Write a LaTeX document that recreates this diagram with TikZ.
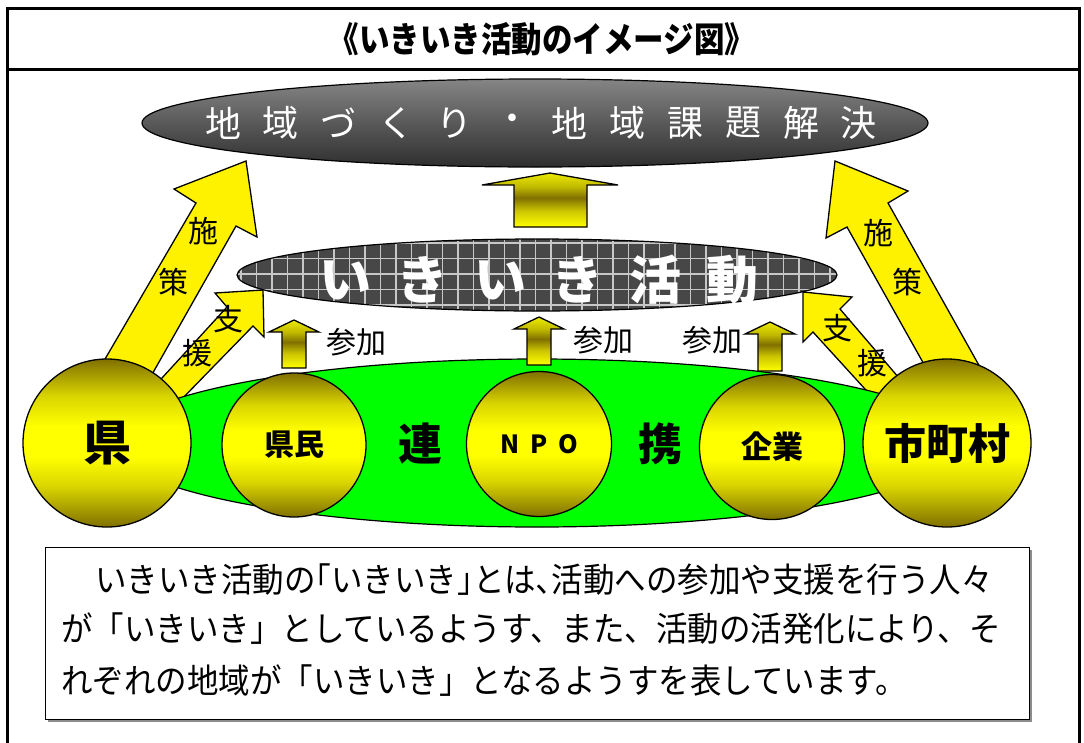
\documentclass[tikz,border=0pt]{standalone}
\usepackage{fontspec}
\setmainfont{Noto Sans CJK JP}
\usetikzlibrary{shapes.geometric}
\definecolor{olv}{RGB}{128,112,0}
\definecolor{grn}{RGB}{0,255,0}
\pgfdeclareverticalshading{ballsh}{100bp}{color(0bp)=(olv); color(25bp)=(olv); color(37bp)=(yellow!70!olv); color(46bp)=(yellow); color(55bp)=(yellow); color(64bp)=(yellow!70!olv); color(75bp)=(olv); color(100bp)=(olv)}
\pgfdeclareverticalshading{upsh}{100bp}{color(0bp)=(yellow); color(25bp)=(yellow); color(40bp)=(yellow!60!olv); color(52bp)=(olv); color(62bp)=(yellow!50!olv); color(75bp)=(yellow!85!olv); color(100bp)=(yellow!85!olv)}
\tikzset{
  frameline/.style={line width=3pt},
  bigarrow/.style={fill=yellow, draw=black, line width=1.3pt, line join=miter},
  upblock/.style={shade, shading=upsh, draw=black, line width=1.3pt, line join=miter},
  ballnode/.style={circle, draw=black, line width=1.3pt, shade, shading=ballsh, inner sep=0pt},
  lbl/.style={inner sep=0pt, font=\fontsize{30}{30}\selectfont},
  goaltxt/.style={inner sep=0pt, text=white, font=\fontsize{36}{36}\selectfont},
  actxt/.style={inner sep=0pt, text=white, font=\fontsize{52}{52}\selectfont\bfseries},
  bodytxt/.style={inner sep=0pt, anchor=west, font=\fontsize{31.5}{31.5}\selectfont},
  gridln/.style={white!78!black, line width=1.2pt}
}
\newcommand\uparr[3]{\path[upblock] (#1-12,#3) -- (#1-12,#2+12) -- (#1-25,#2+12) -- (#1,#2) -- (#1+25,#2+12) -- (#1+12,#2+12) -- (#1+12,#3) -- cycle;}
\begin{document}
\begin{tikzpicture}[x=1pt,y=-1pt]
\useasboundingbox (0,0) rectangle (1084,742);
\fill[white] (0,0) rectangle (1084,742);
% frame
\draw[frameline] (7.5,750) -- (7.5,8.5) -- (1079.5,8.5) -- (1079.5,750);
\draw[frameline] (7.5,69) -- (1079.5,69);
\node[inner sep=0pt] (title) at (542,39) {\scalebox{1}[1.15]{\fontsize{30.5}{30.5}\selectfont\bfseries 《いきいき活動のイメージ図》}};
% goal ellipse
\shadedraw[top color=black!48, bottom color=black!82, draw=black, line width=1.2pt] (535,123) ellipse [x radius=393pt, y radius=44pt];
\foreach \c [count=\i from 0] in {地,域,づ,く,り,・,地,域,課,題,解,決}
  \node[goaltxt] (g\i) at (223+57.8*\i,123) {\c};
% central up arrow
\path[upblock] (514,227) -- (514,185) -- (482,185) -- (550,173) -- (618,185) -- (587,185) -- (587,227) -- cycle;
% diagonal arrows
\path[bigarrow] (94,378) -- (196,203) -- (174,189) -- (246,161) -- (257,237) -- (236,226) -- (146,385) -- cycle;
\path[bigarrow] (151,390) -- (227,307) -- (215,293) -- (263,290) -- (264,337) -- (253,326) -- (178,403) -- cycle;
\path[bigarrow] (930,375) -- (847,227) -- (826,238) -- (835,161) -- (908,191) -- (888,203) -- (990,385) -- cycle;
\path[bigarrow] (875,400) -- (813,332) -- (803,342) -- (803,292) -- (852,297) -- (840,309) -- (905,385) -- cycle;
% ikiiki ellipse with grid
\begin{scope}
  \clip (537,275) ellipse [x radius=300pt, y radius=36pt];
  \fill[black!72] (230,235) rectangle (845,315);
  \foreach \gx in {241,256.5,...,840} \draw[gridln] (\gx,235) -- (\gx,315);
  \foreach \gy in {243,258.5,...,315} \draw[gridln] (230,\gy) -- (845,\gy);
\end{scope}
\draw[line width=1.2pt] (537,275) ellipse [x radius=300pt, y radius=36pt];
\foreach \c [count=\i from 0] in {い,き,い,き,活,動}
  \node[actxt] (a\i) at (345+77.5*\i,280) {\c};
% green ellipse
\draw[fill=grn, line width=1.2pt] (537,443) ellipse [x radius=424pt, y radius=84pt];
% small up arrows
\uparr{294}{320}{368}
\uparr{539}{317}{365}
\uparr{770}{322}{371}
% circles
\node[ballnode, minimum size=168pt] (ken) at (107,443) {\fontsize{48}{48}\selectfont\bfseries 県};
\node[ballnode, minimum size=144pt] (kenmin) at (294,445) {\fontsize{30}{30}\selectfont\bfseries 県民};
\node[ballnode, minimum size=145pt] (npo) at (539,444) {\fontsize{25}{25}\selectfont\bfseries N\hspace{11pt}P\hspace{11pt}O};
\node[ballnode, minimum size=145pt] (kigyo) at (772,447) {\fontsize{31}{31}\selectfont\bfseries 企業};
\node[ballnode, minimum size=168pt] (shi) at (947,443) {\fontsize{42}{42}\selectfont\bfseries 市町村};
\node[inner sep=0pt] (ren) at (420,444) {\fontsize{44}{44}\selectfont\bfseries 連};
\node[inner sep=0pt] (kei) at (660,444) {\fontsize{44}{44}\selectfont\bfseries 携};
% labels
\node[lbl] (s1) at (203,231) {施};
\node[lbl] (s2) at (173,282) {策};
\node[lbl] (s3) at (228,319) {支};
\node[lbl] (s4) at (197,353) {援};
\node[lbl] (s5) at (878,233) {施};
\node[lbl] (s6) at (907,282) {策};
\node[lbl] (s7) at (837,328) {支};
\node[lbl] (s8) at (872,363) {援};
\node[lbl] (p1) at (356,342) {参加};
\node[lbl] (p2) at (603,340) {参加};
\node[lbl] (p3) at (712,340) {参加};
% description box
\fill[black!45] (48,550) rectangle (1032,722);
\draw[fill=white, line width=1pt] (45,547) rectangle (1029,719);
\node[bodytxt] (l1) at (95,580) {\scalebox{1}[1.08]{いきいき活動の｢いきいき｣とは､活動への参加や支援を行う人々}};
\node[bodytxt] (l2) at (61,629) {\scalebox{1}[1.08]{が「いきいき」としているようす、また、活動の活発化により、そ}};
\node[bodytxt] (l3) at (61,681) {\scalebox{1}[1.08]{れぞれの地域が「いきいき」となるようすを表しています。}};
\end{tikzpicture}
\end{document}
